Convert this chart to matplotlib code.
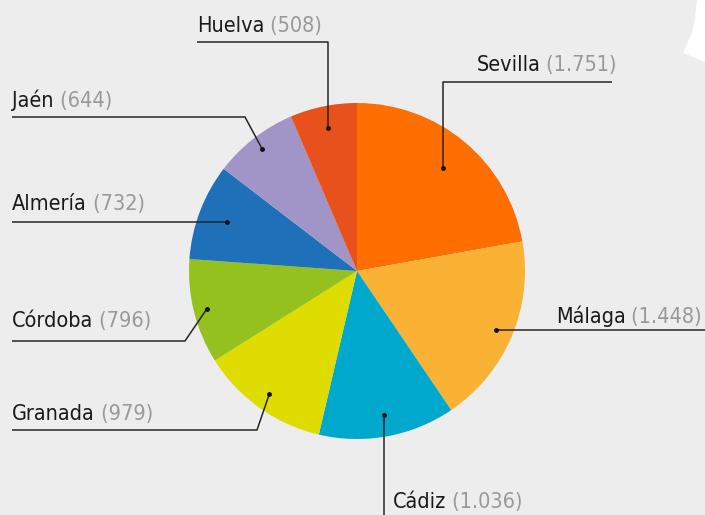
import numpy as np
import matplotlib
matplotlib.use("Agg")
import matplotlib.pyplot as plt
from matplotlib.patches import Polygon

provinces = ['Sevilla', 'Málaga', 'Cádiz', 'Granada', 'Córdoba', 'Almería', 'Jaén', 'Huelva']
values = [1751, 1448, 1036, 979, 796, 732, 644, 508]
colors = ['#FF6E00', '#F9B233', '#00A9CC', '#DEDC00', '#95C11F', '#1E70B8', '#A095C6', '#E8501C']

plt.rcParams['font.family'] = ['DejaVu Sans']
plt.rcParams['font.stretch'] = 'condensed'

W, H = 705, 515
fig = plt.figure(figsize=(W / 100, H / 100), dpi=100, facecolor='#EDEDED')
ax = fig.add_axes([0, 0, 1, 1])

# pie in pixel coords (y axis inverted -> counterclock=True draws clockwise on screen)
cx, cy, r = 357, 271, 168
wedges, _ = ax.pie(values, colors=colors, center=(cx, cy), radius=r,
                   startangle=-90, counterclock=True, frame=True,
                   wedgeprops=dict(linewidth=0))
ax.set_xlim(0, W)
ax.set_ylim(H, 0)
ax.set_aspect('equal')
ax.axis('off')

# white decoration top right
ax.add_patch(Polygon([(697, 0), (705, 0), (705, 62), (683, 53), (692, 33), (695, 18)],
                     closed=True, facecolor='white', edgecolor='none', zorder=1))

# leader layout: radial fraction of dot, elbow points, label anchor (x, baseline, align)
dot_frac = [0.80, 0.90, 0.87, 0.90, 0.92, 0.83, 0.92, 0.87]
routes = {
    'Sevilla': (['vx', (612, 82)], (617, 71, 'right')),
    'Málaga':  (['hy', (705, None)], (702, 323, 'right')),
    'Cádiz':   (['vx', (None, 515)], (393, 508, 'left')),
    'Granada': ([(257, 430), (12, 430)], (12, 420, 'left')),
    'Córdoba': ([(185, 341), (12, 341)], (12, 327, 'left')),
    'Almería': (['hy', (12, None)], (12, 210, 'left')),
    'Jaén':    ([(245, 117), (12, 117)], (12, 107, 'left')),
    'Huelva':  (['vx', (197, 42)], (197, 32, 'left')),
}

fs = 15.5
total = sum(values)
start = 0.0
for name, v, w, f in zip(provinces, values, wedges, dot_frac):
    mid = np.deg2rad(start + v / total * 180)
    start += v / total * 360
    dx = cx + f * r * np.sin(mid)
    dy = cy - f * r * np.cos(mid)
    pts, (tx, ty, al) = routes[name]
    xs, ys = [dx], [dy]
    if pts[0] == 'vx':
        end = pts[1]
        ey = end[1]
        xs.append(dx); ys.append(ey)
        if end[0] is not None:
            xs.append(end[0]); ys.append(ey)
    elif pts[0] == 'hy':
        xs.append(pts[1][0]); ys.append(dy)
    else:
        for px, py in pts:
            xs.append(px); ys.append(py)
    ax.plot(xs, ys, color='#262626', lw=1.1, zorder=3, solid_capstyle='butt')
    ax.plot([dx], [dy], 'o', color='#111111', ms=2.5, zorder=4)
    val = ' (%s)' % format(v, ',').replace(',', '.')
    if al == 'left':
        t1 = ax.text(tx, ty, name, fontsize=fs, color='#1a1a1a', ha='left', va='baseline', zorder=5)
        ax.annotate(val, xy=(1, 0), xycoords=t1,
                    fontsize=fs, color='#999999', ha='left', va='bottom', zorder=5)
    else:
        t2 = ax.text(tx, ty, val, fontsize=fs, color='#999999', ha='right', va='baseline', zorder=5)
        ax.annotate(name, xy=(0, 0), xycoords=t2,
                    fontsize=fs, color='#1a1a1a', ha='right', va='bottom', zorder=5)

fig.savefig('out.png', dpi=100, facecolor=fig.get_facecolor())
